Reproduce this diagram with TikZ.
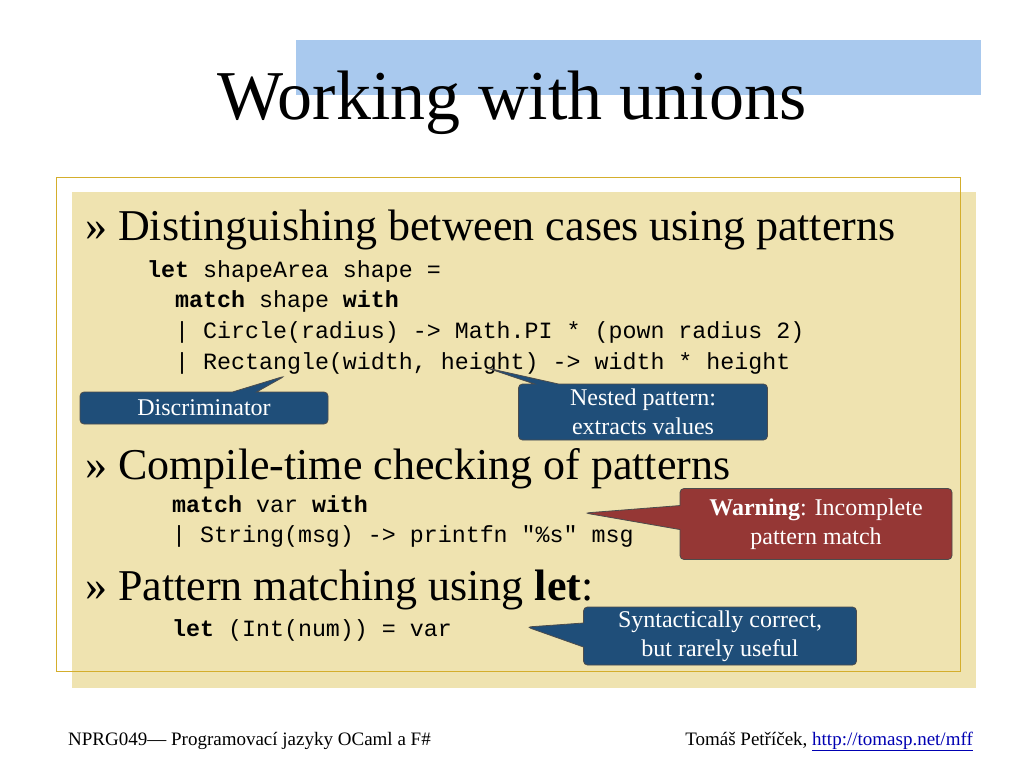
\documentclass[tikz,border=0pt]{standalone}
\usepackage{fontspec}
\newfontfamily\bodyfont{Liberation Serif}
\newfontfamily\codefont{Liberation Mono}
\usetikzlibrary{shapes.callouts,positioning}
\definecolor{titlebar}{HTML}{A9C9EE}
\definecolor{paper}{HTML}{EFE3B0}
\definecolor{frame}{HTML}{D4AE2C}
\definecolor{noteblue}{HTML}{1F4E79}
\definecolor{notered}{HTML}{953735}
\begin{document}
\begin{tikzpicture}[x=1pt,y=-1pt,
		bullet/.style = {anchor=base west, inner sep=0, font=\bodyfont\fontsize{44}{44}\selectfont},
		code/.style   = {anchor=base west, inner sep=0, font=\codefont\fontsize{23.3}{23}\selectfont},
		note/.style   = {rectangle callout, draw=black!70, thick, rounded corners=4pt, text=white, align=center,
			inner sep=2pt, callout pointer width=24pt, font=\bodyfont\fontsize{24}{29}\selectfont},
		foot/.style   = {anchor=base west, inner sep=0, font=\bodyfont\fontsize{19}{19}\selectfont}]
		\useasboundingbox (0,0) rectangle (1024,768);
		
		% Title
		\fill[titlebar] (296,40) rectangle (981,95);
		\node[anchor=base, font=\bodyfont\fontsize{70}{70}\selectfont] (title) at (512,119) {Working with unions};
		
		% Content area
		\fill[paper] (72,192) rectangle (976,688);
		\draw[frame, thick] (56,177) rectangle (960,671);
		
		% First bullet
		\node[bullet] (b1) at (85,240) {» Distinguishing between cases using patterns};
		\node[code] (c1) at (147,277) {\textbf{let} shapeArea shape =};
		\node[code] (c2) at (175,307) {\textbf{match} shape \textbf{with}};
		\node[code] (c3) at (175,338) {| Circle(radius) -> Math.PI * (pown radius 2)};
		\node[code] (c4) at (175,369) {| Rectangle(width, height) -> width * height};
		
		% Second bullet
		\node[bullet] (b2) at (85,479) {» Compile-time checking of patterns};
		\node[code] (c5) at (172,512) {\textbf{match} var \textbf{with}};
		\node[code] (c6) at (172,542) {| String(msg) -> printfn "\%s" msg};
		
		% Third bullet
		\node[bullet] (b3) at (85,600) {» Pattern matching using \textbf{let}:};
		\node[code] (c7) at (172,636) {\textbf{let} (Int(num)) = var};
		
		% Callouts
		\coordinate (p1) at (285,376);
		\coordinate (p2) at (487,368);
		\coordinate (p3) at (585,513);
		\coordinate (p4) at (527,627);
		\node[note, fill=noteblue, minimum width=248pt, minimum height=32pt, callout absolute pointer={(p1)}] (disc) at (204,408) {Discriminator};
		\node[note, fill=noteblue, minimum width=249pt, minimum height=56pt, callout absolute pointer={(p2)}] (nested) at (643,412) {Nested pattern:\\extracts values};
		\node[note, fill=notered, minimum width=272pt, minimum height=71pt, callout absolute pointer={(p3)}] (warn) at (816,524) {\textbf{Warning}: Incomplete\\pattern match};
		\node[note, fill=noteblue, minimum width=273pt, minimum height=58pt, callout absolute pointer={(p4)}] (synt) at (720,636) {Syntactically correct,\\but rarely useful};
		
		% Footer
		\node[foot] (fl) at (68,745) {NPRG049— Programovací jazyky OCaml a F\#};
		\node[foot, anchor=base east] (fr) at (973,745) {Tomáš Petříček, \textcolor{blue!70!black}{\underline{http://tomasp.net/mff}}};
	\end{tikzpicture}
\end{document}
